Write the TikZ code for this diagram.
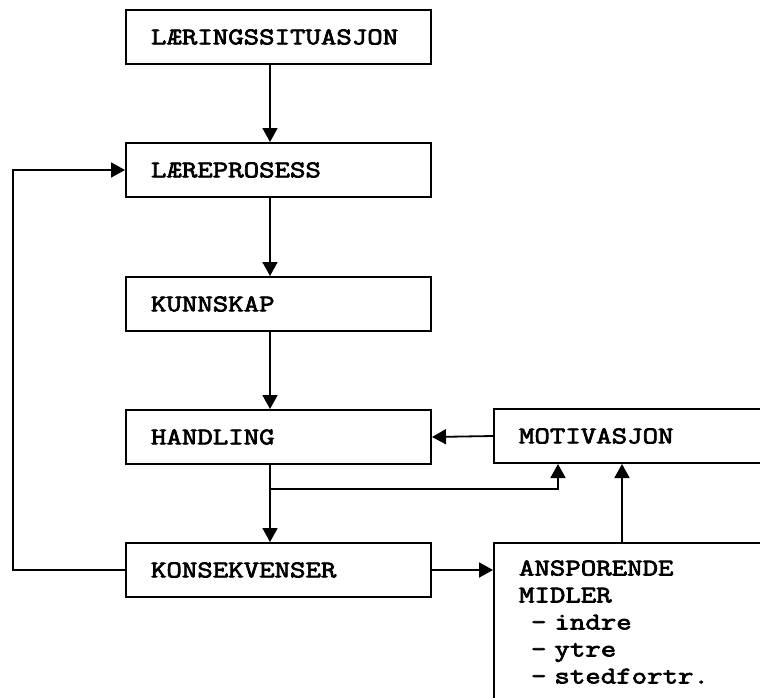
\documentclass[tikz,border=0pt]{standalone}
\usepackage{fontspec}
\newfontfamily\boxfont{Latin Modern Mono}[FakeStretch=1.25,FakeBold=3]
\usetikzlibrary{arrows.meta}
\tikzset{
  box/.style={draw, line width=2pt, rectangle, anchor=north west,
    minimum height=54pt, inner xsep=25pt, inner ysep=0pt, align=left,
    font=\boxfont\fontsize{24pt}{27pt}\selectfont},
  lbox/.style={box, text width=255pt},
  rbox/.style={box, text width=250pt},
  arr/.style={line width=1.8pt, -{Triangle[length=14pt,width=15pt]}},
}
\begin{document}
\begin{tikzpicture}[x=1pt,y=-1pt]
\useasboundingbox (0,0) rectangle (760,697);
\clip (0,0) rectangle (760,697);
\node[lbox] (B1) at (125,9) {LÆRINGSSITUASJON};
\node[lbox] (B2) at (125,142) {LÆREPROSESS};
\node[lbox] (B3) at (125,276) {KUNNSKAP};
\node[lbox] (B4) at (125,409) {HANDLING};
\node[lbox] (B5) at (125,542) {KONSEKVENSER};
\node[rbox] (M) at (493,408) {MOTIVASJON};
\node[rbox, minimum height=158pt] (A) at (493,542) {ANSPORENDE\\MIDLER\\\hspace*{0.5em}- indre\\\hspace*{0.5em}- ytre\\\hspace*{0.5em}- stedfortr.};
\coordinate (cx) at (270,0);
\coordinate (br) at (558,489);
\coordinate (ax) at (622,0);
\draw[arr] (B1.south -| cx) -- (B2.north -| cx);
\draw[arr] (B2.south -| cx) -- (B3.north -| cx);
\draw[arr] (B3.south -| cx) -- (B4.north -| cx);
\draw[arr] (B4.south -| cx) -- (B5.north -| cx);
\draw[arr] (br -| cx) -| (M.south -| br);
\draw[arr] (M.west) -- (B4.east);
\draw[arr] (A.north -| ax) -- (M.south -| ax);
\draw[arr] (B5.east) -- (B5.east -| A.west);
\draw[arr] (B5.west) -- ++(-112,0) |- (B2.west);
\end{tikzpicture}
\end{document}
